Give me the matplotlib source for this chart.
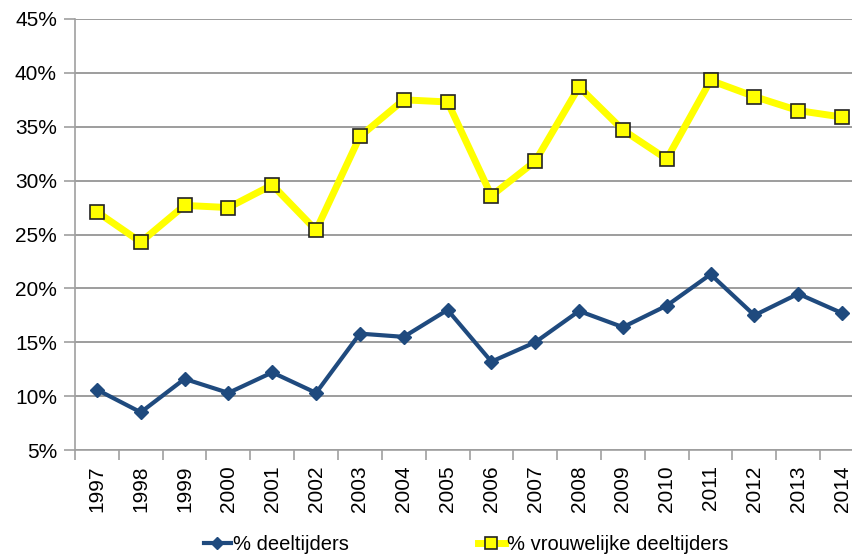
import matplotlib.pyplot as plt
from matplotlib.ticker import FixedLocator, FuncFormatter
import numpy as np

plt.rcParams['font.family'] = ['Liberation Sans', 'DejaVu Sans']

years = [str(y) for y in range(1997, 2015)]
deeltijders = [10.6, 8.5, 11.6, 10.3, 12.2, 10.3, 15.8, 15.5, 18.0, 13.2,
               15.0, 17.9, 16.4, 18.4, 21.3, 17.5, 19.5, 17.7]
vrouw_deeltijders = [27.1, 24.3, 27.7, 27.5, 29.6, 25.4, 34.1, 37.5, 37.3, 28.6,
                     31.8, 38.7, 34.7, 32.0, 39.3, 37.8, 36.5, 35.9]

W, H = 852, 560
fig = plt.figure(figsize=(W / 100, H / 100), dpi=100)
# plot area runs past the right edge, as in the cropped original
ax = fig.add_axes([75 / W, (H - 450) / H, (864 - 75) / W, (450 - 19) / H])

x = np.arange(len(years))
ax.plot(x, deeltijders, color='#1F4A7E', lw=3, marker='D', ms=7,
        mec='#1F4A7E', mfc='#1F4A7E', label='% deeltijders', zorder=3)
ax.plot(x, vrouw_deeltijders, color='#FFFF00', lw=5, marker='s', ms=10,
        mec='#222222', mew=1.2, mfc='#FFFF00', label='% vrouwelijke deeltijders', zorder=3)

ax.set_xlim(-0.5, len(years) - 0.5)
ax.set_ylim(5, 45)
ax.set_yticks(np.arange(5, 46, 5))
ax.yaxis.set_major_formatter(FuncFormatter(lambda v, p: f'{v:.0f}%'))
ax.grid(axis='y', color='#8C8C8C', lw=1.2)
ax.set_axisbelow(True)

ax.set_xticks(x)
ax.set_xticklabels(years, rotation=90)
ax.xaxis.set_minor_locator(FixedLocator(np.arange(-0.5, len(years), 1)))
ax.tick_params(axis='x', which='major', length=0, pad=11, labelsize=15)
ax.tick_params(axis='x', which='minor', length=7, color='#A0A0A0', width=1.2)
ax.tick_params(axis='y', length=8, color='#A0A0A0', width=1.2, labelsize=15, pad=5)

for s in ['top', 'right']:
    ax.spines[s].set_visible(False)
for s in ['left', 'bottom']:
    ax.spines[s].set_color('#A0A0A0')
    ax.spines[s].set_linewidth(1.2)

fig.legend(loc='center', bbox_to_anchor=(466 / W, 1 - 545 / H), ncol=2,
           frameon=False, fontsize=14.5, handlelength=1.35, handletextpad=0.1,
           columnspacing=6.4, markerscale=0.85)

fig.savefig('out.png', dpi=100)
